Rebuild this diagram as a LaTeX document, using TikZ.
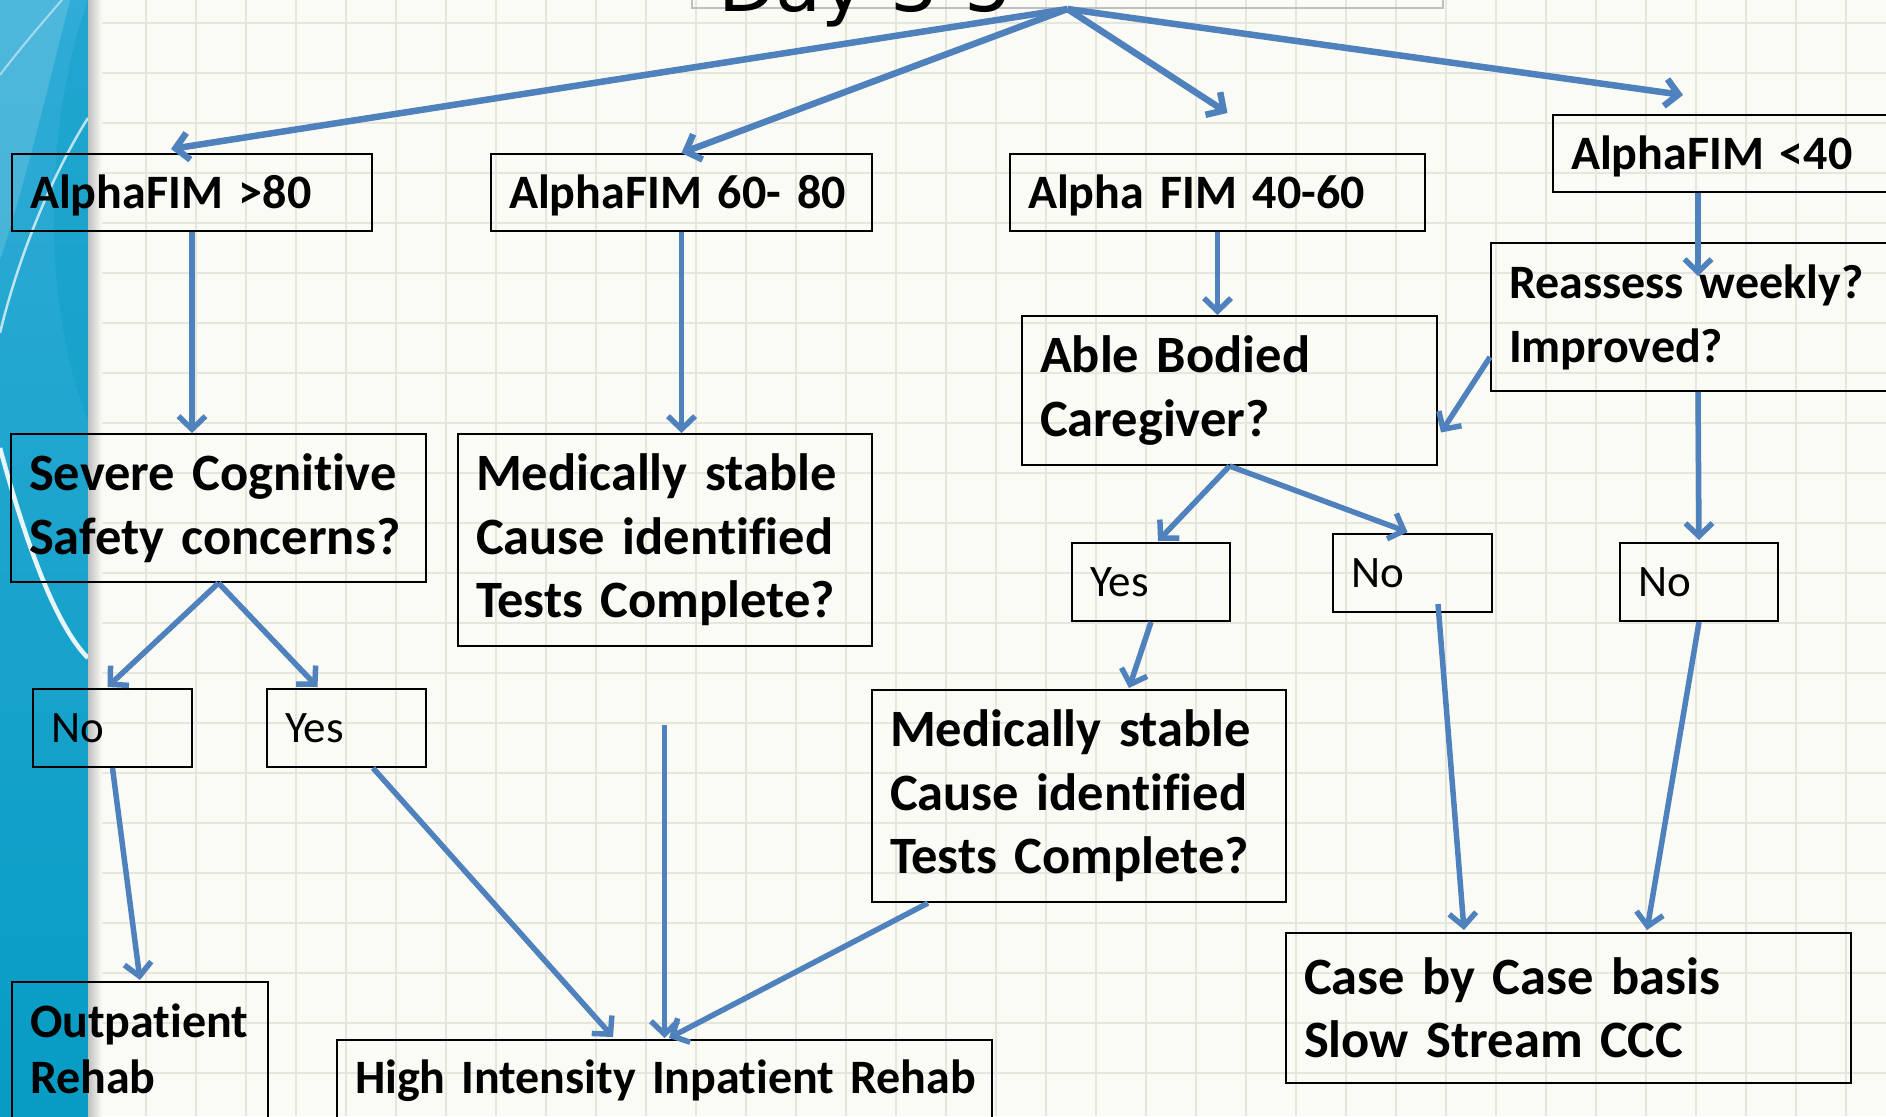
\documentclass[tikz,border=0pt]{standalone}
\usepackage{fontspec}
\setmainfont{Carlito}[Ligatures=NoCommon, WordSpace=0.8]
\newfontfamily\dayfont{DejaVu Sans}
\usetikzlibrary{shapes,arrows,arrows.meta}
\hyphenpenalty=10000
\exhyphenpenalty=10000
\definecolor{paper}{RGB}{251,251,246}
\definecolor{gridline}{RGB}{230,230,223}
\definecolor{arrowblue}{RGB}{79,129,189}
\definecolor{stripe}{RGB}{6,156,196}
\definecolor{stripetop}{RGB}{48,172,214}
\tikzstyle{box} = [rectangle, draw, line width=2pt, align=left, inner xsep=18pt, inner ysep=0pt]
\tikzstyle{midbox} = [box, font=\fontsize{48pt}{64pt}\selectfont\bfseries, text height=36pt, text depth=5pt, minimum height=77pt]
\tikzstyle{bigbox} = [box, font=\fontsize{52.5pt}{63.5pt}\selectfont\bfseries]
\tikzstyle{twobox} = [box, font=\fontsize{48pt}{64pt}\selectfont\bfseries]
\tikzstyle{ynbox} = [box, font=\fontsize{45pt}{54pt}\selectfont, text height=34pt, text depth=5pt, minimum height=78pt]
\tikzstyle{titlebox} = [rectangle, draw=black!25, line width=2pt]
\tikzstyle{line} = [draw, arrowblue, line width=5.5pt, -{Straight Barb[length=13pt,width=27pt]}]
\tikzstyle{topline} = [line, line width=6.5pt]

\begin{document}
\begin{tikzpicture}[x=1pt,y=-1pt]
\useasboundingbox (0,0) rectangle (1886,1116);
\clip (0,0) rectangle (1886,1116);
% paper and grid
\fill[paper] (0,0) rectangle (1886,1116);
\foreach \gx in {46,96,...,1896} \draw[gridline, line width=1.5pt] (\gx,0) -- (\gx,1116);
\foreach \gy in {23,73,...,1123} \draw[gridline, line width=1.5pt] (0,\gy) -- (1886,\gy);
% side stripe
\shade[top color=stripetop, bottom color=stripe] (0,0) rectangle (88,1116);
\fill[white, opacity=0.15] (0,0) -- (70,0) .. controls (40,120) and (20,200) .. (0,260) -- cycle;
\fill[stripe, opacity=0.35] (88,0) .. controls (45,120) and (40,300) .. (88,420) -- cycle;
\draw[white, opacity=0.5, line width=2pt] (62,0) .. controls (40,25) and (15,55) .. (0,75);
\draw[white, opacity=0.7, line width=2.5pt] (88,118) .. controls (55,170) and (20,250) .. (0,333);
\draw[white, opacity=0.9, line width=4.5pt] (0,448) .. controls (25,540) and (55,625) .. (88,658);
\shade[left color=black!25, right color=paper] (88,0) rectangle (102,1116);

\node [titlebox, minimum width=751pt, minimum height=80pt] (title) at (1067.5,-32) {};
\node [anchor=base west, inner sep=0pt, font=\dayfont\fontsize{75pt}{80pt}\selectfont] (day) at (718,12) {Day 3-5};

\node [midbox, text width=324pt] (a80) at (192,192.5) {AlphaFIM~>80};
\node [midbox, text width=345pt] (a6080) at (681.5,192.5) {AlphaFIM~60-~80};
\node [midbox, text width=379pt] (a4060) at (1217.5,192.5) {Alpha~FIM~40-60};
\node [midbox, text width=321pt] (a40) at (1731.5,153.5) {AlphaFIM~<40};
\node [twobox, text width=383pt, minimum height=148pt] (reass) at (1700.5,317) {Reassess~weekly?\\Improved?};
\node [bigbox, text width=379pt, minimum height=149pt] (able) at (1229.5,390.5) {Able~Bodied\\Caregiver?};
\node [bigbox, text width=379pt, minimum height=148pt] (sev) at (218.5,508) {Severe~Cognitive\\Safety~concerns?};
\node [bigbox, text width=378pt, minimum height=212pt] (med1) at (665,540) {Medically~stable\\Cause~identified\\Tests~Complete?};
\node [ynbox, text width=123pt] (no1) at (112.5,728) {No};
\node [ynbox, text width=123pt] (yes1) at (346.5,728) {Yes};
\node [ynbox, text width=122pt] (yes2) at (1151,582) {Yes};
\node [ynbox, text width=123pt] (no2) at (1412.5,573) {No};
\node [ynbox, text width=122pt] (no3) at (1699,582) {No};
\node [bigbox, text width=378pt, minimum height=212pt] (med2) at (1079,796) {Medically~stable\\Cause~identified\\Tests~Complete?};
\node [bigbox, text width=529pt, minimum height=150pt] (cbc) at (1568.5,1008) {Case~by~Case~basis\\Slow~Stream~CCC};
\node [twobox, text width=220pt, minimum height=153pt, font=\fontsize{48pt}{56pt}\selectfont\bfseries] (outp) at (140,1058.5) {Outpatient\\Rehab\rule[-20pt]{0pt}{20pt}};
\node [midbox, text width=619pt, text depth=20pt, minimum height=90pt] (hi) at (664.5,1085) {\mbox{High Intensity Inpatient Rehab}};
\coordinate (vstart) at (664.5,725);

\path [topline] (title.south) -- ([xshift=-21pt,yshift=4pt]a80.north);
\path [topline] (title.south) -- (a6080.north);
\path [topline] (title.south) -- ([xshift=10pt,yshift=40pt]a4060.north);
\path [topline] (title.south) -- ([xshift=131pt,yshift=19pt]a40.north west);
\path [line] (a80.south) -- (a80.south |- sev.north);
\path [line] (a6080.south) -- (a6080.south |- med1.north);
\path [line] (a4060.south) -- (a4060.south |- able.north);
\path [line] ([xshift=146pt]a40.south west) -- ([xshift=208pt,yshift=-34pt]reass.north west);
\path [line] ([yshift=-40pt]reass.west) -- ([xshift=3pt,yshift=-42pt]able.east);
\path [line] ([xshift=208pt]reass.south west) -- ([yshift=2pt]no3.north);
\path [line] (sev.south) -- ([xshift=-5pt,yshift=1pt]no1.north);
\path [line] (sev.south) -- ([xshift=-29pt,yshift=1pt]yes1.north);
\path [line] (no1.south) -- ([yshift=1pt]outp.north);
\path [line] ([xshift=26.5pt]yes1.south) -- ([xshift=-51.5pt,yshift=2pt]hi.north);
\path [line] (vstart) -- ([yshift=1pt]hi.north);
\path [line] ([xshift=57pt]med2.south west) -- ([xshift=4.5pt,yshift=1pt]hi.north);
\path [line] (able.south) -- ([xshift=7pt,yshift=1pt]yes2.north);
\path [line] (able.south) -- ([xshift=-5pt,yshift=1pt]no2.north);
\path [line] (yes2.south) -- ([xshift=50pt,yshift=1pt]med2.north);
\path [line] ([xshift=25.5pt,yshift=9pt]no2.south) -- ([xshift=179pt,yshift=2pt]cbc.north west);
\path [line] (no3.south) -- ([xshift=362pt,yshift=2pt]cbc.north west);
\end{tikzpicture}
\end{document}
